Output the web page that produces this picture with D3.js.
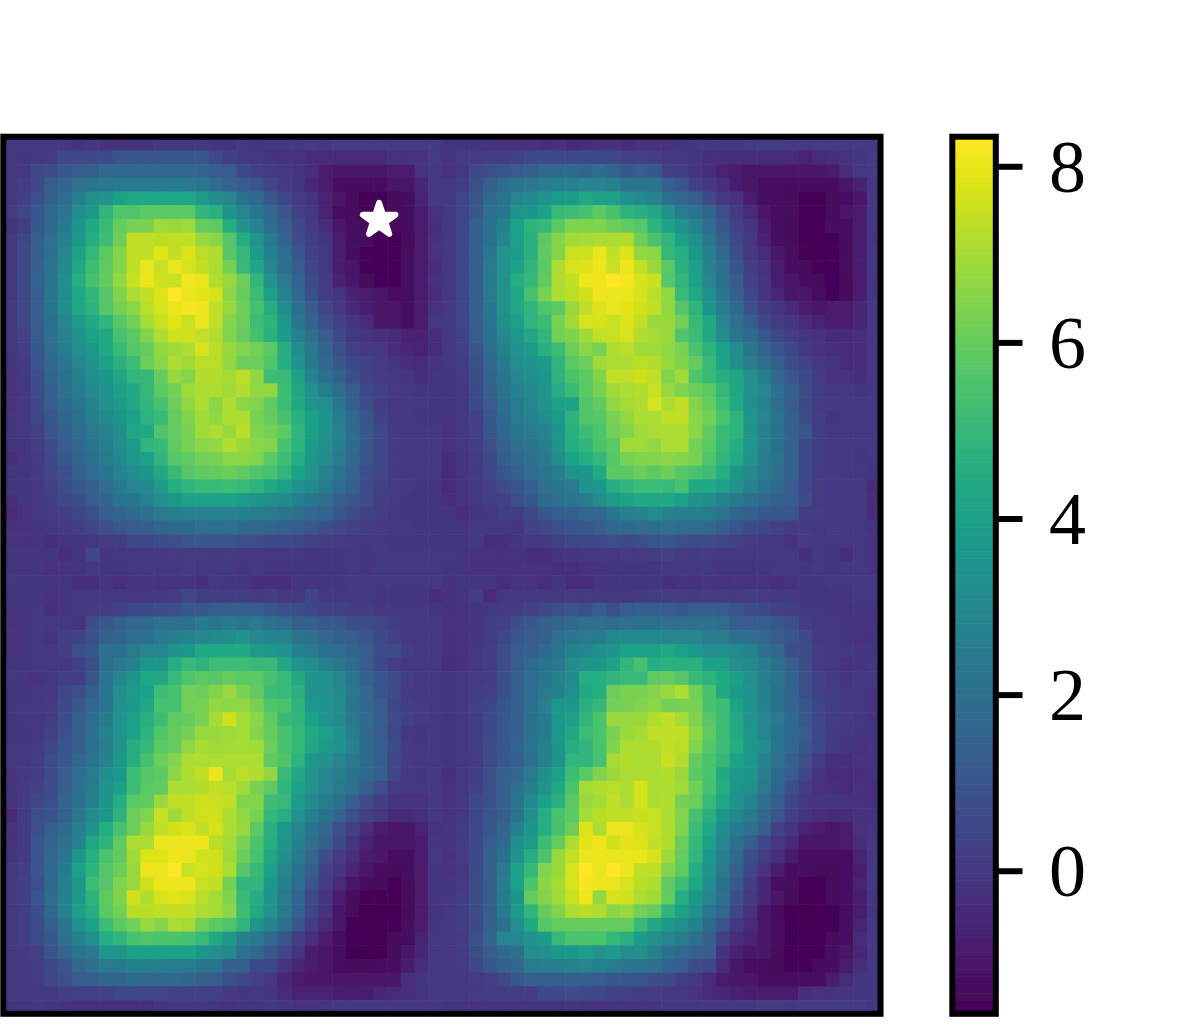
<!DOCTYPE html>
<html><head><meta charset="utf-8">
<style>html,body{margin:0;padding:0;background:#fff}svg{display:block}</style>
<script src="https://cdn.jsdelivr.net/npm/d3@7"></script></head><body>
<script>
const colorTicks=[0,2,4,6,8];
const colorDomain=[-1.625,8.336];
const starCell=[27.42,6.08];
const heatRows=[
[0,0,0,0,0,-.2,0,-.2,-.2,-.2,-.1,0,0,0,0,-.1,-.1,0,-.1,0,0,0,.1,0,.1,.1,.1,.1,.1,.1,.1,.1,-.1,-.1,-.1,-.1,-.2,-.2,-.2,-.3,-.2,-.4,-.3,-.2,-.2,-.3,-.2,-.2,-.2,-.1,0,0,0,0,.1,.2,.2,.1,.1,.1,.1,.1,.1,0],
[0,-.1,0,.1,.6,.6,.6,.6,1,1,1,1,1,1,1,.6,.2,0,0,-.2,-.2,-.2,-.4,-.4,-.4,-.4,-.4,-.4,-.2,-.2,-.2,.1,-.1,.1,.1,.2,.2,.3,.5,.6,.6,.5,.6,.6,.6,.3,.3,.2,0,0,-.1,-.3,-.3,-.3,-.3,-.4,-.4,-.4,-.7,-.4,-.3,-.2,-.1,.1],
[0,0,.6,.7,1.1,1.2,1.4,1.7,1.7,1.7,1.7,1.7,1.7,1.7,1.6,1.2,1.2,.6,.3,.1,0,-.1,-.3,-.8,-1,-1,-1,-1,-.8,-.8,-.2,0,-.2,0,.6,.8,1,1.2,1.4,1.7,1.8,1.8,1.6,1.9,1.6,1.1,1.2,1.1,.3,.2,-.1,-.3,-.7,-.9,-1,-1,-1,-1.1,-1,-1,-.9,-.3,0,.1],
[0,.2,.6,1.3,1.6,2,2.2,2.3,2.5,2.5,2.5,2.5,2.5,2.4,2.3,1.9,1.6,1.2,1,.5,.1,-.1,-.6,-.9,-1.2,-1.2,-1.2,-1.2,-1.1,-1,-.6,0,0,.2,.8,1.3,1.9,2.2,2.4,2.6,2.7,2.7,2.9,2.9,2.8,2.3,2.3,2.2,1.3,1,.3,0,-.3,-.8,-1.1,-1.3,-1.2,-1.2,-1.3,-1.3,-1.2,-1,-.7,0],
[0,.3,.8,1.4,1.9,2.6,3.3,3.5,4,4.3,4.3,4.3,4.3,4.3,3.8,3.2,2.9,2.1,1.8,1.1,.6,.1,-.2,-.7,-1.1,-1.4,-1.6,-1.5,-1.4,-1.2,-.7,0,0,.5,1,1.7,2.2,2.9,3.1,3.5,3.8,3.8,4.3,4,4,3.4,3.1,2.8,2.1,1.7,1.3,.6,0,-.2,-.8,-1.2,-1.2,-1.4,-1.5,-1.5,-1.4,-1.2,-1,0],
[.1,.5,1.1,1.8,2.3,3.2,3.7,4.9,5.6,5.6,5.8,5.8,5.8,5.8,4.9,4.7,3.6,2.9,2.3,1.7,1,.3,0,-.7,-1.2,-1.4,-1.5,-1.5,-1.4,-1.3,-.8,-.2,0,.5,1.1,2,2.3,3.5,3.6,4.1,5.1,5.2,5.4,5.8,5.4,4.8,4.7,4.3,3.5,2.5,2.2,1.6,.8,.1,-.4,-1,-1.3,-1.3,-1.5,-1.5,-1.4,-1.1,-.9,0],
[-.2,.2,1.1,1.8,2.5,3.6,4.4,5.1,6,6.3,6.3,6.9,6.8,6.9,6,5.9,4.6,3.5,2.8,1.9,1.2,.6,.1,-.3,-1,-1.3,-1.4,-1.4,-1.4,-1.3,-.8,-.3,0,.5,1.3,2.1,2.7,4,4.8,5,5.8,6.4,6.4,6.4,6.1,5.9,5.7,4.8,4.1,3.4,2.8,1.9,1.1,.3,-.1,-.8,-1.2,-1.4,-1.5,-1.5,-1.3,-1.2,-.8,0],
[0,.5,1.2,2,2.7,3.7,4.6,5.2,6.1,7.4,7.4,7.3,7.4,7.4,6.8,6.6,5.7,4.6,3.5,2.4,1.6,.7,.2,-.1,-.8,-1.2,-1.4,-1.5,-1.5,-1.4,-.9,-.2,0,.6,1.3,2.1,2.9,4,4.7,5.8,6.5,6.9,7,7.1,7.1,7.2,6.1,5.5,4.9,4,3.3,2.3,1.3,.6,0,-.7,-1.2,-1.4,-1.6,-1.6,-1.5,-1.3,-.8,-.1],
[0,.6,1.3,2.1,2.9,4.1,5,5.8,6.5,7.4,7.4,7.9,7.4,7.8,7.3,7.1,5.7,5,3.8,2.7,1.9,1,.3,0,-.9,-1.3,-1.5,-1.6,-1.5,-1.3,-.9,-.2,0,.6,1.3,2.3,3.5,3.8,4.7,5.9,6.5,7.5,7.6,8,7.4,7.8,6.7,6.6,5,4.6,3.7,2.6,1.7,.7,0,-.4,-1,-1.3,-1.5,-1.6,-1.5,-1.4,-.8,0],
[0,.6,1.4,2.2,3.1,4.3,5.2,5.9,6.5,7.4,8,7.5,8,7.7,7.4,7.1,6.2,5.1,4.3,2.9,2.1,1.2,.5,0,-.8,-1.1,-1.5,-1.6,-1.5,-1.3,-.9,-.3,0,.6,1.4,2.4,3.4,4.1,4.9,5.8,7.1,7.7,7.8,8.1,7.5,8.1,7.4,6.8,5.8,4.7,4,2.8,2,1,.2,-.2,-.9,-1.3,-1.4,-1.5,-1.5,-1.3,-.8,0],
[0,.6,1.6,2.3,3.3,4.6,5.4,6,6.7,7.5,8,7.6,7.5,8.2,8,7.2,6.8,6.1,4.9,3.4,2.4,1.6,.6,.1,-.7,-1,-1.4,-1.5,-1.5,-1.3,-.8,-.2,0,.6,1.4,2.4,3.5,4.6,5,5.9,7.1,7.4,8.1,8.1,8.3,8.2,7.7,7.5,5.7,4.9,4.1,2.9,2.1,1.2,.3,-.1,-.8,-1.1,-1.2,-1.4,-1.5,-1.4,-.9,-.1],
[0,.6,1.4,2.3,3.2,4.3,4.9,5.7,6.4,7.1,7.4,7.8,8.33,8,7.9,7.7,6.6,6,5.2,4,2.8,1.8,.8,.2,-.1,-.7,-.9,-1.1,-1.2,-1.2,-.9,-.3,0,.6,1.4,2.4,3.4,4.3,5.4,6.3,7.1,7.3,7.6,8.1,8,8,7.7,7.3,6.7,5.1,4.4,3.3,2.3,1.3,.6,-.1,-.6,-1,-1.1,-1.3,-1.5,-1.4,-.9,-.1],
[0,.5,1.3,2.2,3.2,4.3,4.8,5.7,6.2,6.6,7.3,7.7,8,8.2,8.1,7.4,6.8,6.1,5.4,4.6,3.2,2.1,1.2,.5,0,-.4,-.8,-1.1,-1.1,-1.2,-.9,-.2,0,.5,1.4,2.3,3.4,4.3,4.9,5.6,5.8,6.8,7.4,7.8,8,7.9,7.6,7.4,6.7,5.7,4.8,3.6,2.5,1.8,.8,.2,-.1,-.4,-.8,-1,-.9,-.9,-.6,0],
[0,.5,1.3,2.1,2.9,3.8,4.4,4.9,5.7,6.2,7,7.5,7.9,7.5,8,7.4,6.5,6.1,5.2,4.8,3.7,2.3,1.6,.8,.3,-.1,-.4,-1,-1,-1.2,-.9,0,0,.5,1.3,2.2,3.3,4,4.9,5.2,6.3,6.9,7.7,7.7,7.5,7.8,7.4,6.8,6.8,6.2,5.1,4.4,2.9,2,1.3,.6,.1,-.1,-.4,-.7,-.8,-.8,-.6,0],
[0,.3,1.2,2,2.8,3.4,4.1,4.4,5.4,5.8,6.5,7.1,7.6,7.6,7.4,7.2,6.4,6,5.4,4.7,3.8,2.7,2,1.2,.6,0,-.1,-.3,-.4,-.7,-.7,-.3,0,.3,1.2,2.1,2.9,3.7,4.3,4.9,6.2,6.4,6.9,7.4,7.5,7.7,7.2,7,6.8,5.6,5.2,4.3,3.3,2.3,1.8,1.1,.5,.2,-.1,-.2,-.4,-.4,-.3,0],
[0,.2,1.1,1.9,2.5,3.3,3.7,4.3,5.1,5.7,6,6.7,6.9,7.1,7.7,7.3,6.8,6.5,6.2,5.8,4.6,3.2,2.4,1.6,.8,.3,0,0,-.3,-.6,-.7,-.4,0,.3,1,1.9,2.7,3.5,3.8,4.7,5.2,6.1,6.6,6.3,7.1,7.3,6.9,6.9,6.7,6.3,5.5,4.8,4,3.2,2.2,1.6,1,.5,0,-.2,-.3,-.4,-.3,0],
[-.1,.1,1,1.7,2.3,2.9,3.5,4,4.7,5.2,6.1,6.6,7.1,6.9,7.3,7.3,6.7,6.1,6.1,5.6,4.6,3.4,2.5,1.7,1.1,.6,.3,.1,-.1,-.3,-.4,-.2,0,.2,.8,1.7,2.4,3.3,3.5,3.8,4.9,5.8,6.1,6.9,7.1,7.1,7.3,7.2,6.8,6.4,6,5.1,4.1,3.3,2.6,1.9,1.3,.7,.3,0,-.1,-.4,-.3,0],
[-.2,0,.8,1.6,2.1,2.7,3.3,3.6,4.3,4.9,5,6,6.8,6.5,7.2,7.2,7,7.3,6.7,5.2,5.1,4.1,2.8,2.1,1.4,.8,.3,.1,0,-.1,-.3,-.1,-.1,.1,.7,1.6,2.2,2.9,3.3,3.7,4.8,5.5,5.8,6.4,7.4,7.4,7.6,7.4,6.4,6.9,5.6,5.1,4.6,4.3,3.4,2.6,1.7,1.1,.6,.1,-.2,-.2,-.3,0],
[-.2,0,.7,1.3,2,2.5,3.1,3.4,4,4.4,5,5.8,6.2,6.9,7.1,7.1,6.9,7.2,6.7,6.7,5.2,4.3,3.3,2.5,1.9,1.2,.6,.3,.1,0,-.1,-.1,-.1,0,.6,1.4,2.1,2.7,3.1,3.5,4.6,5.1,5.8,6.3,6.9,7.1,7.2,7.5,6.8,6.4,6.1,5.8,5,4.3,3.5,2.9,2,1.3,.7,.2,0,0,-.1,0],
[-.2,0,.6,1.2,1.8,2.3,2.8,3.3,3.8,4.3,4.9,5.4,6.1,6.7,7.1,6.6,7.1,6.6,6.5,5.9,5.2,4.4,3.6,3.3,2.2,1.4,.7,.2,0,0,0,-.1,-.1,0,.6,1.2,1.9,2.5,2.9,3.4,4.1,4.1,5.6,5.9,6.7,7,7.1,7.7,7.1,7.4,6.5,6,5.2,4.4,3.3,2.8,1.9,1.2,.6,.1,.1,0,0,0],
[-.1,0,.5,1.1,1.6,2.1,2.6,3.1,3.6,4,4.8,5.1,6,6.4,6.9,6.7,7.1,7.1,6.3,6,5.4,4.7,4,3.6,2.5,1.8,1,.3,0,0,-.1,-.1,-.2,0,.3,1.1,1.8,2.4,2.8,3.2,3.8,4.8,5.6,5.7,6.3,6.7,7.1,7.1,7.4,7.4,6.6,6.2,5.5,4.8,3.7,2.9,2.2,1.4,.7,.2,-.1,0,0,0],
[-.1,0,.3,1,1.3,1.9,2.4,2.8,3.3,4.3,4.4,5.6,6,6.3,6.9,7.1,6.8,7.3,6.4,6.2,5.9,4.9,4,3.4,2.8,1.9,1.1,.6,.1,0,0,0,-.2,0,.3,1,1.6,2.2,2.5,2.8,3.6,4.7,5.2,5.5,6.2,6.4,6.9,7.1,7.1,7.1,6.6,5.9,5.1,4.8,3.5,2.7,2,1.3,1.1,.2,0,0,0,0],
[-.1,-.1,.2,.7,1.2,1.7,2.2,2.6,3.2,3.8,4.9,5.1,5.9,6.3,6.6,6.7,7.2,6.8,6.6,6.5,5.4,4.8,3.8,3.3,2.6,1.9,1.1,.5,.1,0,0,0,-.2,0,.2,.8,1.3,2,2.3,2.6,3.4,4.6,4.9,5.5,5.8,6.9,6.9,6.7,7.1,7.1,6.2,5.8,5.1,4.6,3.7,2.8,2.1,1.4,.6,.2,0,0,0,0],
[-.3,-.1,.1,.6,1.1,1.6,2.1,2.5,3.1,3.7,4,4.9,5.7,5.9,6.2,6.3,6.6,6.6,6.4,5.8,5.2,4.6,3.7,3.2,2.4,1.7,1,.5,.1,0,0,0,-.4,-.1,.1,.6,1.2,1.8,2,2.4,3.2,4.1,4.6,5,5.7,6.3,6.4,6.5,6.6,6.5,6.3,5.6,4.9,4.4,3.4,2.6,2.2,1.3,.6,.2,0,0,-.1,0],
[-.1,-.1,.1,.5,.8,1.3,1.9,2.2,2.8,3.3,3.6,4.3,5.1,5.7,5.9,6,6.1,5.9,5.6,5.4,4.9,4.1,3.4,2.8,2.2,1.6,.8,.5,.1,0,0,0,-.4,-.1,.1,.5,1,1.3,1.9,2.2,2.6,3.5,3.6,4.4,5.8,5.8,6.1,5.8,6.1,5.7,5.5,5.2,4.6,3.6,3.1,2.4,2,1.3,.6,.1,.1,0,0,-.1],
[-.1,-.1,0,.3,.7,1.1,1.4,1.9,2.5,2.9,3.1,3.8,4.6,4.9,5.1,5.1,5.2,5.1,4.8,4.4,4,3.5,3.1,2.5,1.9,1.3,.7,.3,.1,0,-.1,-.1,-.4,-.1,0,.3,.7,1,1.4,2,2.3,2.4,3.4,3.7,4.6,4.9,5.2,5.2,5.1,5.4,4.4,4.3,4,3.4,2.8,2.2,1.8,1.2,.5,.1,0,0,0,-.4],
[-.3,-.1,0,.2,.5,.7,1.2,1.6,2.2,2.3,2.8,3.3,3.7,4.1,4.1,4.1,4.1,3.8,3.6,3.3,3.1,2.7,2.3,2,1.4,1.1,.7,.2,.1,-.1,-.1,-.1,-.3,-.2,0,.2,.3,.8,1.1,1.8,2,2.2,2.5,3.2,3.8,4.1,4.4,4.3,4.3,4,3.4,3.2,2.8,2.5,2.1,1.7,1.4,1.2,.7,.1,0,0,0,-.3],
[-.4,-.2,0,.1,.2,.5,.8,1.3,1.6,1.8,2,2.5,2.7,2.8,2.8,2.8,2.8,2.7,2.6,2.4,2.2,2,1.7,1.6,1.1,.7,.3,.2,0,-.1,-.1,-.1,-.1,-.3,-.1,0,.2,.2,.6,1.1,1.3,1.4,1.7,1.7,2.3,2.7,2.8,3.2,2.8,2.7,2.7,2.5,2.2,1.6,1.3,1.1,1.1,1,.2,.2,0,0,0,-.4],
[-.2,-.2,-.1,0,.1,.2,.5,.8,1.1,1.2,1.4,1.6,1.8,1.8,2,2.1,2,1.8,1.7,1.6,1.4,1.2,1.1,.8,.6,.3,.2,.1,0,0,-.1,-.1,-.1,-.1,0,0,0,-.1,.3,.5,.8,1,1.1,1.2,1.8,1.8,1.9,1.9,2,1.9,1.9,1.7,1.3,1,.6,.5,.3,.1,.1,0,.1,0,0,-.1],
[-.2,-.2,-.2,-.3,-.1,-.1,0,.1,.2,.6,.5,.7,.8,1,1,1.1,1,.8,.8,.6,.6,.5,.3,.2,.1,0,0,0,-.1,-.1,-.1,-.1,-.1,-.1,0,-.3,-.3,-.1,0,0,.3,.5,.5,.6,.8,.6,.8,1.1,1.1,.8,.7,.7,.5,.3,.1,0,0,-.2,.1,0,0,0,0,-.1],
[-.1,-.1,-.1,-.1,-.3,-.1,.5,-.1,0,0,0,0,.1,.1,.1,.1,.1,0,0,0,0,0,-.1,-.1,-.1,0,-.1,0,0,0,0,0,0,-.1,-.2,-.2,-.2,-.2,-.3,-.3,-.1,-.1,0,0,0,.1,.1,.2,.3,.1,.1,.1,0,0,0,0,0,0,-.3,0,-.1,-.3,0,-.1],
[-.1,-.2,-.1,-.2,-.1,-.1,0,-.1,-.1,0,0,0,0,.1,0,0,0,-.1,0,-.1,-.1,-.1,-.1,-.1,-.1,0,-.1,0,0,0,0,0,-.1,-.1,-.2,-.2,-.2,-.2,-.2,-.2,-.3,-.3,-.2,-.2,-.1,-.1,-.1,-.1,0,0,0,0,-.1,-.1,-.1,-.1,0,0,-.1,0,-.1,0,0,-.1],
[0,-.1,-.1,-.1,-.1,-.3,-.3,-.1,-.3,-.1,-.1,-.2,-.2,-.1,-.3,0,-.1,-.1,-.3,-.3,-.3,-.1,-.1,-.1,-.1,0,0,0,0,0,0,0,-.2,-.1,-.1,-.1,-.3,-.2,-.2,-.3,-.1,-.4,-.4,-.1,-.1,-.1,-.1,-.1,-.3,-.2,-.2,-.1,-.2,-.1,-.2,-.2,-.3,-.2,-.1,-.1,0,0,0,0],
[-.1,-.1,-.1,-.2,-.1,0,0,0,0,0,0,0,.1,.5,.2,.2,.2,.2,.1,.2,0,0,.5,0,0,0,0,-.1,-.1,-.1,-.1,-.3,-.2,-.1,.1,-.4,0,0,0,0,0,.1,.1,0,0,0,.1,.1,.2,.1,.1,.1,.1,.1,.2,.1,0,.1,-.1,-.1,-.1,-.1,0,0],
[-.2,-.1,0,-.3,-.1,0,.1,.2,.3,.5,.6,.7,.8,1.1,1.1,1.3,1.3,1.4,1.2,1.1,.8,.7,.5,.3,.3,.2,.2,0,0,0,0,-.1,-.2,-.2,-.1,0,.1,.2,.3,.5,.8,1,.8,1.2,.8,1.2,1.4,1.3,1.2,1.1,1.3,1.3,1.2,1,.7,.6,.3,.2,0,0,-.1,-.2,-.1,-.1],
[-.2,-.1,0,0,0,-.2,.8,1.1,1.3,1.7,1.8,2,2,2,2.5,2.3,2.5,2.2,2.4,2,1.9,1.4,1.3,1.1,1.1,.8,.7,.5,.2,0,0,0,-.2,-.2,-.1,.2,.3,.8,1.1,1.3,1.6,1.7,2,2,1.9,2,2.1,2.1,2,2,2,2,1.9,1.2,1.2,1.2,1.1,.8,.2,0,0,-.1,-.1,-.1],
[-.2,-.1,0,-.2,.2,.3,.8,1.4,1.6,1.9,2.1,2.4,2.6,2.8,2.9,3.1,3.2,3.5,2.9,2.8,2.8,2.2,2,1.7,1.4,1.2,1,.6,.3,0,0,0,-.2,-.2,-.1,.1,.5,1,1.2,1.4,2,2.3,2.4,2.5,3.1,3.1,3.1,3.1,2.9,2.9,2.9,2.4,2.4,2.1,1.9,1.7,1.2,1,.6,0,0,-.1,-.2,-.2],
[-.2,-.1,0,0,.2,.8,1.1,2,2.1,2.4,2.9,2.9,3.5,3.7,4.3,4.3,4.3,4.4,3.8,3.7,3.5,2.7,2.4,2.1,1.9,1.6,1.2,.7,.7,.2,0,0,-.2,-.2,0,.2,.7,1.2,1.4,1.7,2.2,2.7,2.9,3.3,3.5,4.1,4,4,4.3,4,3.7,3.3,3.3,3.1,2.8,2,1.7,.8,.7,.2,0,0,-.1,-.1],
[-.1,-.1,0,0,0,.3,.8,2.1,2.4,2.7,3.6,3.7,4.6,5.1,4.8,5.2,5.2,5.2,5.1,5.1,4.3,3.4,3.2,2.7,2.3,1.9,1.2,.6,.2,0,0,0,-.3,-.2,0,.2,.7,1.2,1.8,2.1,2.4,3.2,3.4,3.7,4.1,4.9,5.4,4.6,4.7,4.7,4.7,4.1,4,3.3,3.1,2.6,2.1,1.3,.7,.1,0,-.2,-.1,0],
[0,-.1,-.2,0,.2,.2,1,2.2,2.9,3.6,4.3,4.3,5.1,5.6,5.8,5.7,6,5.8,5.8,5.4,5.1,4.4,3.6,3.5,2.9,2.2,1.4,1,.7,.2,0,0,-.1,0,.1,.2,.8,1.3,1.9,2.2,2.7,3.1,4.6,4.6,4.9,5.1,5.1,5.9,6,5.7,5.1,4.8,4.4,4,3.3,2.6,2.3,1.6,.8,.3,.1,-.1,0,0],
[-.1,-.1,0,0,.5,.8,1.3,2.2,3.2,3.8,4.1,5.2,5.4,6.2,6.1,6.4,6.8,6.3,5.9,5.2,5.1,4.7,3.5,3.5,3.1,2.4,1.7,1,.7,.1,0,0,-.1,0,.2,.3,.8,1.3,1.9,2.4,2.7,3.3,4.4,4.6,6.1,6.3,6.3,6.5,6.8,7.1,6.2,5.4,4.4,3.8,3.4,2.7,2.1,1.6,.8,.3,.2,0,0,-.1],
[-.1,0,0,.1,.6,1.1,1.7,2.2,3.3,3.7,4.3,5.4,5.4,6.2,6.3,6.7,6.6,6.7,6.3,5.6,5.5,4.8,3.7,3.6,3.2,2.3,1.7,1.2,.5,.2,.1,0,-.1,0,.3,.5,1,1.3,1.9,2.6,3.7,3.7,4.7,5,6.2,6.3,6.4,6.6,6.2,6.3,6.3,5.4,5.2,4.1,3.6,2.8,2.1,1.6,1,.5,.2,0,0,-.1],
[-.1,0,0,.2,.7,1.3,1.9,2.5,3.4,4,4.7,5.2,5.9,6,6.3,7,7.6,7,6.6,5.9,5.1,4.9,4.1,3.5,3.1,2.4,1.9,1.3,.7,.3,.1,0,-.1,0,.2,.6,1,1.4,2.1,2.5,3.7,4,4.9,5.5,6.8,6.8,6.8,7.2,7.4,7,6.4,5.7,5.2,4.4,3.5,2.9,2.4,1.8,1.1,.5,.2,.1,0,-.1],
[-.1,-.1,0,.3,.8,1.4,2,2.8,3.5,4,4.8,5.6,6,6.2,6.8,6.8,6.9,7,6.5,6,5.4,5,4.4,4,3.4,2.6,1.7,1.2,.6,0,-.1,0,-.1,0,.2,.6,1.1,1.4,2,2.5,3.7,4.3,5.2,5.5,6.3,6.8,7,7.4,7.4,7.4,6.7,5.9,5.2,4.4,3.7,2.9,2.2,1.8,1.2,.6,.1,0,-.1,-.1],
[0,0,.1,.5,1,1.4,2,2.6,3.5,4.6,5,5.8,6,6.7,7,6.9,7,7,6.9,6.1,5.4,5,4.3,3.8,3.5,2.8,1.8,1.4,.7,.1,0,0,-.1,0,.2,.7,1.1,1.6,2.2,2.7,3.6,4.6,4.9,5.5,6.4,7.1,7.1,7.2,7.4,7.3,6.5,5.7,5.2,4.6,3.7,3.2,2.3,1.7,1.1,.5,.1,-.1,-.2,-.1],
[0,0,.2,.7,1.1,1.7,2.2,2.8,3.7,4.6,5.4,6.1,6.5,7.1,7.1,7.1,7.1,7.1,7.1,5.9,5.6,4.8,3.7,3.4,2.9,2.4,1.8,1.3,.6,.1,0,0,-.1,0,.1,.7,1.1,1.3,2,2.7,3.5,4.9,4.9,5.4,7,7.2,7.1,7.1,7.5,7.2,6,5.5,5,4.1,3.7,2.8,2,1.4,.8,.1,-.3,-.3,-.1,-.1],
[-.2,0,.2,.7,1.2,1.9,2.4,3.2,3.7,5.2,5.7,5.8,6.6,7.1,7.4,8,7,7.3,7.2,6.7,5.1,4.4,3.4,2.9,2.6,2.1,1.8,1.3,.5,0,-.1,0,-.3,0,.2,.8,1.3,1.7,2.4,3.2,4,5.2,5.8,6.4,6.8,7.1,7.1,7.1,7.2,6.8,5.8,5.5,4.4,3.7,3.6,2.6,1.8,1.2,.5,-.1,-.4,-.4,-.3,-.2],
[-.1,.1,.3,.7,1.3,2,2.5,3.5,4,5.2,5.8,5.9,7.1,7.1,7.2,7.4,7.3,6.9,6.3,5.9,4.9,4.1,3.4,2.9,2.4,2,1.3,.8,.1,0,0,0,-.2,0,.3,.8,1.3,2,2.7,3.5,4.3,5.5,7,7.1,7.3,7.1,7.7,7.1,7.1,6.9,6.2,5.4,4.6,3.6,3.3,2.4,1.6,.8,.2,-.2,-.3,-.4,-.2,-.3],
[-.2,.1,.5,.8,1.6,2.1,2.6,3.6,4.6,5.8,5.9,6.8,7.4,7.4,7.6,7.5,7.4,6.4,6.5,5.2,5.1,3.8,3.1,2.5,2.1,1.4,.7,.2,-.1,-.2,-.2,0,-.2,0,.5,.8,1.3,2.2,3.1,4,4.7,5.8,6.8,7,7.4,7.1,7.7,7.1,7.2,6.2,6.1,5.1,4.3,3.4,2.8,2,1.2,.5,0,-.1,-.1,-.2,-.2,-.3],
[-.4,.1,.8,1,1.4,2.4,3.2,3.7,4.8,6.1,6.4,7.5,6.9,7.4,7.6,7.6,7.1,6.7,6.3,5,4.6,3.5,2.7,2.1,1.6,.8,.3,0,-.4,-.4,-.3,0,-.2,0,.5,1,1.3,2.2,3.3,4.6,5.5,5.8,7,7.3,7.4,7.4,7.5,7.5,7.1,6.5,5.4,4.7,3.6,3.1,2.5,1.7,1,.3,-.1,-.3,-.4,-.4,-.2,-.2],
[-.2,.1,.8,1.4,1.8,2.6,3.4,4.6,5.4,6.1,6.8,7.4,7.6,7.8,7.4,7.7,7.1,6.8,5.8,4.7,3.7,2.9,2.2,1.7,.8,.3,-.3,-.9,-1,-1,-.7,-.2,-.1,.1,.5,1,1.6,2.7,3.6,4.6,5.4,6.1,7.8,7.1,8,8,7.7,7.5,7.2,6.4,5.2,4.3,3.2,2.5,2,1.4,.3,-.1,-.7,-.9,-1,-.9,-.2,-.1],
[-.2,.1,1,1.6,2,2.8,4.3,4.8,5.9,7.1,7.1,8,8,8,8.1,7.3,7,6.3,5.5,4.6,3.6,2.7,2,1.3,.6,-.1,-.7,-1,-1.1,-1.1,-.8,-.1,-.1,.1,.6,1.2,1.8,3.2,3.8,5.2,6,7.1,7.9,8.1,7.6,7.9,7.8,7.4,7.2,6.1,5,4,2.9,2.1,1.4,.6,0,-.4,-1,-1.1,-1,-.9,-.3,0],
[-.1,.1,1,1.7,2.3,3.6,4.6,5.5,5.9,6.9,7.8,7.8,8.1,8,7.6,7.6,6.9,6.1,5.4,4.3,3.3,2.5,1.7,.8,.1,-.3,-.9,-1.1,-1.2,-1.2,-.8,0,-.2,.1,.6,1.3,2.1,3.5,4.6,5.5,6.8,7.4,8,8.1,8,8,8,7.7,6.9,6,4.9,3.7,2.6,1.8,.8,.2,-.3,-.9,-1.2,-1.3,-1.3,-1.2,-.7,0],
[0,.2,1,1.8,2.5,4,4.8,5.7,6.1,6.8,8.1,8,8.33,7.5,7.7,7.6,7.1,5.7,5.1,4,2.9,2.1,1.3,.3,-.1,-.6,-1.1,-1.3,-1.4,-1.3,-.9,-.1,-.2,0,.6,1.3,2.4,4,5,6.4,6.8,7.7,8.3,8,8.33,8.1,7.4,7.4,6.5,5.9,4.6,3.4,2.4,1.4,.5,-.2,-.8,-1.2,-1.3,-1.4,-1.4,-1.3,-.8,0],
[0,.3,.8,1.8,2.7,3.7,5.2,5.7,6.4,6.8,7.6,8.1,8.1,8.1,7.5,7.4,6.2,4.9,4.9,3.7,2.7,1.9,1,.1,-.4,-1,-1.3,-1.4,-1.5,-1.4,-.9,-.1,-.1,.1,.7,1.4,2.6,4.1,5.5,6.6,7,7.7,8.2,8.1,8,7.7,7.3,7.1,5.9,5.2,4.3,3.2,2.1,1.1,.2,-.6,-1.2,-1.3,-1.5,-1.5,-1.4,-1.2,-.7,0],
[0,.3,1,1.9,2.7,3.7,4.8,5.9,6.4,7.6,7.2,7.7,7.9,7.7,7.3,7,6.4,5.1,4.6,3.5,2.5,1.6,.6,-.1,-.8,-1.3,-1.5,-1.5,-1.5,-1.4,-.9,-.1,0,.2,.7,1.4,2.5,3.6,6,6.5,6.9,7.5,8.1,6.7,7.7,7.6,7.1,6.9,6,4.6,3.7,2.9,2,.8,0,-.6,-1.1,-1.4,-1.6,-1.6,-1.4,-1.3,-.8,-.1],
[0,.2,.8,1.7,2.8,4,4.6,5.8,6.2,7.3,7.3,7.4,7.4,7.4,7.1,7,6.6,5.2,4.4,3.4,2.4,1.6,.5,-.1,-1,-1.4,-1.6,-1.6,-1.6,-1.4,-.9,-.2,0,.2,.7,1.4,2.4,3.8,4.9,6,6.4,7.1,7.3,7.2,6.6,6.8,6.2,6,4.9,4.1,3.3,2.3,1.7,.5,-.2,-1,-1.4,-1.6,-1.6,-1.6,-1.5,-1.3,-.9,-.1],
[0,.2,.7,1.4,2.3,3.3,4.1,5.2,5.8,6.2,6.8,6.5,7.1,7,6.2,5.8,5.6,4.9,3.5,2.8,2,1.1,.1,-.4,-1.1,-1.5,-1.6,-1.7,-1.5,-1.3,-.9,-.1,0,.2,.6,1.4,2.1,3.3,4.4,5.7,6,6,6,6,6,6,5.1,4.4,3.7,3.3,2.7,1.8,1,0,-.4,-1,-1.3,-1.5,-1.6,-1.6,-1.5,-1.3,-.7,0],
[0,.2,.7,1.1,2,2.7,3.3,4.6,4.9,5.4,5.6,5.5,5.5,5.4,5.1,4.4,3.7,2.7,2.4,1.8,1,.2,-.3,-.9,-1.3,-1.5,-1.6,-1.6,-1.4,-1.2,-.7,0,0,.1,.8,1.6,2.9,2.9,3.5,3.8,5.1,5.5,5.5,5.5,5,4.7,3.8,3.3,2.9,2.5,2.1,1.3,.3,-.3,-.7,-1.1,-1.3,-1.5,-1.6,-1.5,-1.4,-1.3,-.4,0],
[0,.1,.3,1,1.6,2.2,2.4,3.6,3.6,4,4,4,4.1,4.1,3.6,3.3,3.1,2,1.8,1.1,.5,-.1,-.8,-1,-1.2,-1.5,-1.6,-1.5,-1.4,-1.1,-.6,0,0,.2,.7,1.2,1.8,2.1,3.2,3.3,3.7,3.7,4,3.4,3.8,3.2,3.3,2.7,2.1,1.8,1.4,1.2,-.2,-.7,-1,-1.1,-1.4,-1.5,-1.5,-1.5,-1.3,-1.1,-.6,0],
[0,0,.2,.5,1,1.7,2,2.4,2.5,2.7,2.7,2.7,2.5,2.5,2.3,2.2,1.3,1.3,.6,.5,-.1,-.6,-.8,-1.1,-1.3,-1.4,-1.4,-1.3,-1.2,-.9,-.3,0,0,.1,.5,1.1,1.4,1.7,2.5,2.6,2.6,2.8,2.9,2.7,2.5,2.3,2.2,2,1.6,1.2,.7,.5,-.4,-1,-1.2,-1.3,-1.4,-1.5,-1.5,-1.4,-1.2,-.9,-.3,0],
[0,0,.1,.5,.8,1.2,1.3,1.6,1.6,1.8,1.7,1.7,1.8,1.6,1.3,1.2,.8,.5,.3,0,-.6,-.9,-1,-1,-1,-1.1,-1.1,-1,-1,-.3,-.1,0,0,0,.1,.3,.5,1.1,1.3,1.4,1.3,1.3,1.3,1.2,1.1,1,1,.7,.6,.2,0,-.4,-.8,-1,-1.1,-1.3,-1.3,-1.3,-1.2,-1.2,-.9,-.4,-.1,0],
[0,0,0,0,.2,.3,.3,.3,.5,.6,.5,.5,.3,.3,.3,.3,0,-.1,0,-.1,-.4,-.7,-.7,-.7,-.8,-.8,-.8,-.6,-.4,-.3,-.2,0,0,0,.1,.2,.2,.2,.2,.6,.6,.7,.6,.6,.3,.3,.2,.1,0,0,-.2,-.4,-.6,-.7,-.8,-.9,-.8,-.8,-.3,-.2,-.2,-.1,-.1,0],
[-.1,-.1,0,-.1,-.2,-.3,-.3,-.3,-.3,-.3,-.3,-.1,0,0,0,-.1,-.2,-.1,-.1,0,-.1,-.2,-.2,-.1,0,0,0,0,0,0,0,0,-.1,-.1,-.2,-.2,-.2,-.1,-.1,-.1,-.2,-.1,-.2,-.2,-.1,-.1,-.2,-.1,0,0,0,0,0,0,0,.1,.1,0,.1,.1,.1,.1,.1,0]
];
const bad=heatRows.map((r,i)=>[i,r.length]).filter(d=>d[1]!==64);
if(bad.length||heatRows.length!==64) throw new Error("bad rows "+heatRows.length+" "+JSON.stringify(bad));

const W=1196,H=1034;
const plot={l:3.3,r:880.5,t:136.7,b:1013.8}, bar={l:952.3,r:995.8};
const x=d3.scaleLinear().domain([0,64]).range([plot.l,plot.r]);
const y=d3.scaleLinear().domain([0,64]).range([plot.t,plot.b]);
const color=d3.scaleSequential(d3.interpolateViridis).domain(colorDomain);
const cy=d3.scaleLinear().domain(colorDomain).range([plot.b,plot.t]);

const svg=d3.select("body").append("svg").attr("width",W).attr("height",H);
const defs=svg.append("defs");
defs.append("filter").attr("id","soft").attr("x","-2%").attr("y","-2%").attr("width","104%").attr("height","104%")
  .append("feGaussianBlur").attr("stdDeviation",0.7);
const root=svg.append("g").attr("filter","url(#soft)");
root.append("rect").attr("width",W).attr("height",H).attr("fill","#fff");

const cells=root.append("g");
heatRows.forEach((row,r)=>{
  cells.selectAll(null).data(row).join("rect")
    .attr("x",(d,c)=>x(c)).attr("y",y(r))
    .attr("width",x(1)-x(0)+.6).attr("height",y(1)-y(0)+.6)
    .attr("fill",d=>color(d));
});
root.append("rect").attr("x",plot.l).attr("y",plot.t).attr("width",plot.r-plot.l).attr("height",plot.b-plot.t)
  .attr("fill","none").attr("stroke","#000").attr("stroke-width",6);

root.append("path").attr("d",d3.symbol(d3.symbolStar,330)())
  .attr("transform",`translate(${x(starCell[0])},${y(starCell[1])})`)
  .attr("fill","#fff").attr("stroke","#fff").attr("stroke-width",6).attr("stroke-linejoin","round");

const steps=d3.range(256).map(i=>colorDomain[0]+(colorDomain[1]-colorDomain[0])*i/255);
const stepH=(plot.b-plot.t)/256;
root.append("g").selectAll("rect").data(steps).join("rect")
  .attr("x",bar.l).attr("width",bar.r-bar.l)
  .attr("y",(d,i)=>plot.b-(i+1)*stepH).attr("height",stepH+.6)
  .attr("fill",d=>color(d));
root.append("rect").attr("x",bar.l).attr("y",plot.t).attr("width",bar.r-bar.l).attr("height",plot.b-plot.t)
  .attr("fill","none").attr("stroke","#000").attr("stroke-width",6);

const axis=root.append("g").attr("transform",`translate(${bar.r},0)`)
  .call(d3.axisRight(cy).tickValues(colorTicks).tickSize(26.7).tickPadding(26.5).tickFormat(d3.format("d")));
axis.select(".domain").remove();
axis.selectAll("line").attr("stroke","#000").attr("stroke-width",6);
axis.selectAll("text").attr("fill","#000").attr("dy","0.34em")
  .attr("font-family","'Liberation Serif',serif").attr("font-size",74);
</script></body></html>
